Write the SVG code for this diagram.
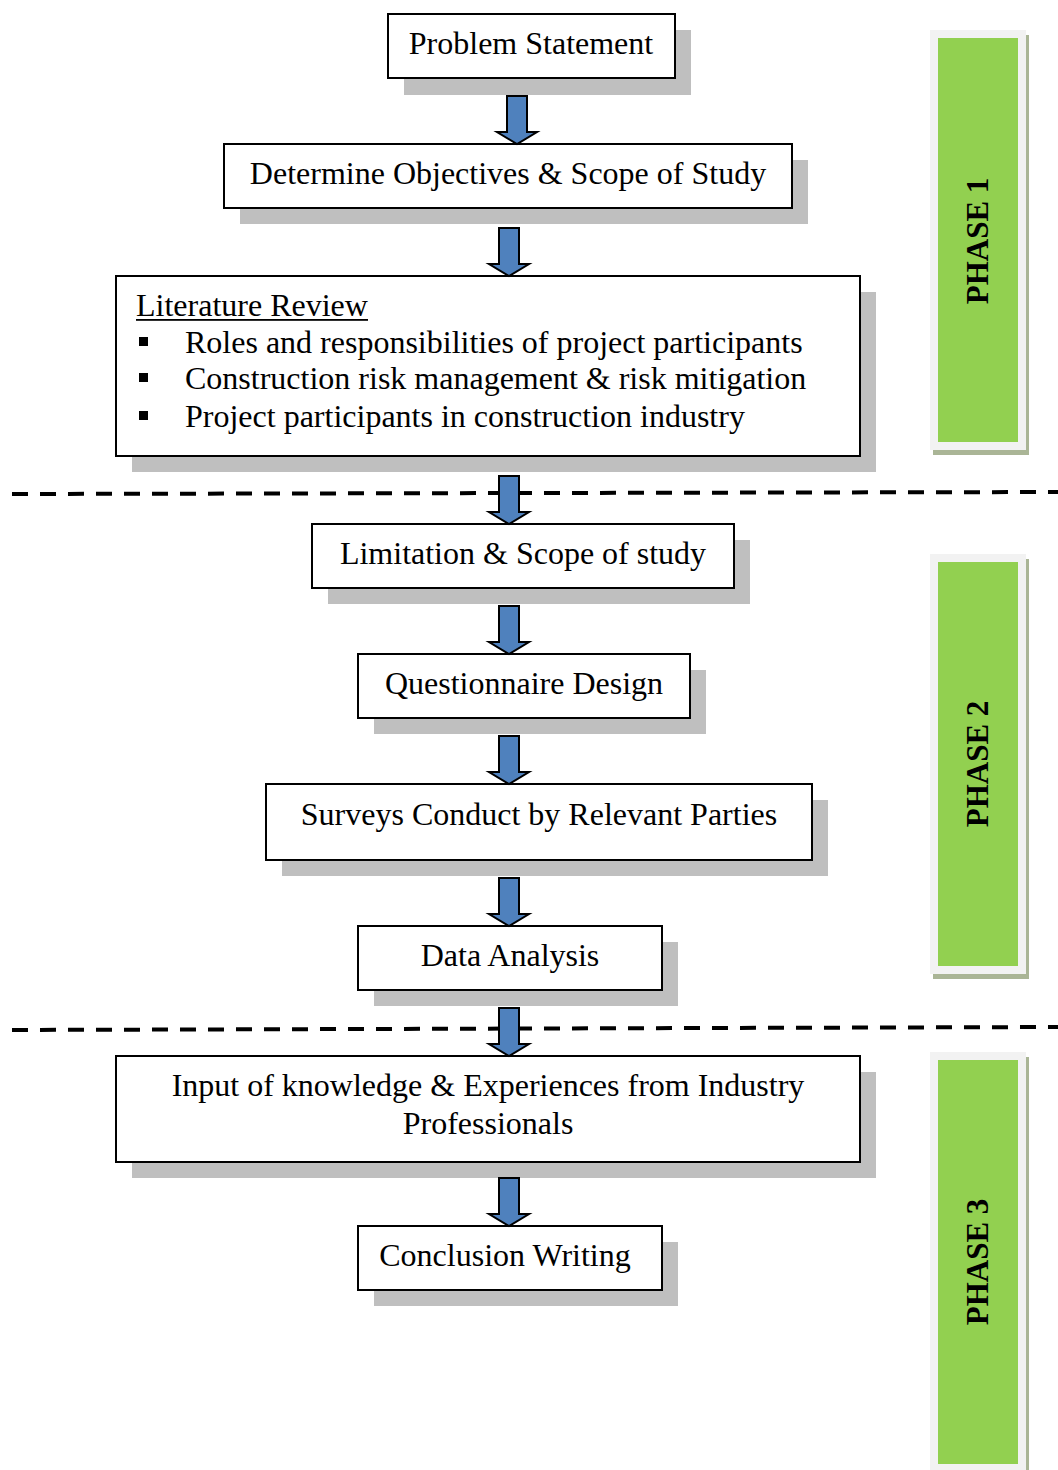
<svg xmlns="http://www.w3.org/2000/svg" width="1058" height="1470" viewBox="0 0 1058 1470">
<style>
.box{fill:#ffffff;stroke:#000000;stroke-width:2}
.shadow{fill:#bfbfbf}
.t{font-family:"Liberation Serif","Times New Roman",serif;font-size:32px;fill:#000000}
.c{text-anchor:middle}
.arrow{fill:#4f81bd;stroke:#000000;stroke-width:2;stroke-linejoin:miter}
.dash{stroke:#000000;stroke-width:4;stroke-dasharray:16 12;fill:none}
.plight{fill:#f2f2f2}
.pshadow{fill:#aab596}
.pgreen{fill:#92d050}
.ph{font-family:"Liberation Serif","Times New Roman",serif;font-size:31px;font-weight:bold;fill:#000000;text-anchor:middle}
</style>
<defs>
<path id="arr" d="M-10,0 H10 V36 H20 L0,48 L-20,36 H-10 Z"/>
</defs>

<g id="phase1">
<rect class="pshadow" x="933" y="35" width="96" height="420"/>
<rect class="plight" x="930" y="30" width="96" height="420"/>
<rect class="pgreen" x="938" y="38" width="80" height="404"/>
<text class="ph" transform="translate(988,241) rotate(-90)">PHASE 1</text>
</g>
<g id="phase2">
<rect class="pshadow" x="933" y="559" width="96" height="420"/>
<rect class="plight" x="930" y="554" width="96" height="420"/>
<rect class="pgreen" x="938" y="562" width="80" height="404"/>
<text class="ph" transform="translate(988,764) rotate(-90)">PHASE 2</text>
</g>
<g id="phase3">
<rect class="pshadow" x="933" y="1057" width="96" height="420"/>
<rect class="plight" x="930" y="1052" width="96" height="420"/>
<rect class="pgreen" x="938" y="1060" width="80" height="404"/>
<text class="ph" transform="translate(988,1262) rotate(-90)">PHASE 3</text>
</g>

<g id="separators">
<line class="dash" x1="12" y1="494" x2="1058" y2="492"/>
<line class="dash" x1="12" y1="1030" x2="1058" y2="1027"/>
</g>

<g id="n-problem">
<rect class="shadow" x="404" y="30" width="287" height="65"/>
<rect class="box" x="388" y="14" width="287" height="64"/>
<text class="t c" x="531" y="54">Problem Statement</text>
</g>
<g id="n-objectives">
<rect class="shadow" x="240" y="160" width="568" height="64"/>
<rect class="box" x="224" y="144" width="568" height="64"/>
<text class="t c" x="508" y="184">Determine Objectives &amp; Scope of Study</text>
</g>
<g id="n-literature">
<rect class="shadow" x="132" y="292" width="744" height="180"/>
<rect class="box" x="116" y="276" width="744" height="180"/>
<text class="t" x="136" y="316">Literature Review</text>
<rect x="136" y="319" width="232" height="1.8" fill="#000000"/>
<rect x="139" y="337" width="9" height="9" fill="#000000"/>
<rect x="139" y="373" width="9" height="9" fill="#000000"/>
<rect x="139" y="411" width="9" height="9" fill="#000000"/>
<text class="t" x="185" y="353">Roles and responsibilities of project participants</text>
<text class="t" x="185" y="389">Construction risk management &amp; risk mitigation</text>
<text class="t" x="185" y="427">Project participants in construction industry</text>
</g>
<g id="n-limitation">
<rect class="shadow" x="328" y="540" width="422" height="64"/>
<rect class="box" x="312" y="524" width="422" height="64"/>
<text class="t c" x="523" y="564">Limitation &amp; Scope of study</text>
</g>
<g id="n-questionnaire">
<rect class="shadow" x="374" y="670" width="332" height="64"/>
<rect class="box" x="358" y="654" width="332" height="64"/>
<text class="t c" x="524" y="694">Questionnaire Design</text>
</g>
<g id="n-surveys">
<rect class="shadow" x="282" y="800" width="546" height="76"/>
<rect class="box" x="266" y="784" width="546" height="76"/>
<text class="t c" x="539" y="825">Surveys Conduct by Relevant Parties</text>
</g>
<g id="n-data">
<rect class="shadow" x="374" y="942" width="304" height="64"/>
<rect class="box" x="358" y="926" width="304" height="64"/>
<text class="t c" x="510" y="966">Data Analysis</text>
</g>
<g id="n-input">
<rect class="shadow" x="132" y="1072" width="744" height="106"/>
<rect class="box" x="116" y="1056" width="744" height="106"/>
<text class="t c" x="488" y="1096">Input of knowledge &amp; Experiences from Industry</text>
<text class="t c" x="488" y="1134">Professionals</text>
</g>
<g id="n-conclusion">
<rect class="shadow" x="374" y="1242" width="304" height="64"/>
<rect class="box" x="358" y="1226" width="304" height="64"/>
<text class="t c" x="505" y="1266">Conclusion Writing</text>
</g>

<g id="connectors">
<use href="#arr" class="arrow" x="517" y="96"/>
<use href="#arr" class="arrow" x="509" y="228"/>
<use href="#arr" class="arrow" x="509" y="476"/>
<use href="#arr" class="arrow" x="509" y="606"/>
<use href="#arr" class="arrow" x="509" y="736"/>
<use href="#arr" class="arrow" x="509" y="878"/>
<use href="#arr" class="arrow" x="509" y="1008"/>
<use href="#arr" class="arrow" x="509" y="1178"/>
</g>
</svg>
